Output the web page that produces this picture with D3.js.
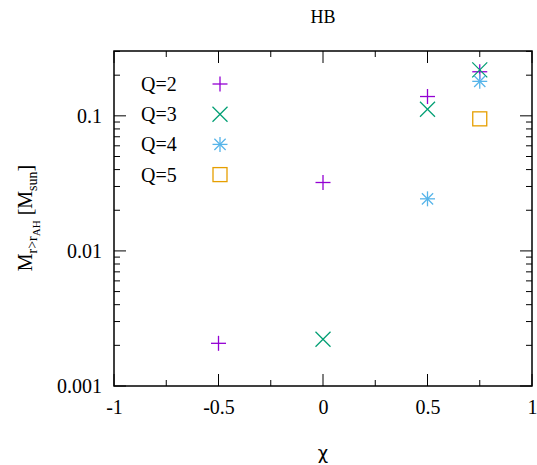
<!DOCTYPE html>
<html><head><meta charset="utf-8">
<script src="https://cdn.jsdelivr.net/npm/d3@7"></script>
<style>body{margin:0;background:#fff}svg{display:block}text{font-family:"Liberation Serif","DejaVu Serif","Times New Roman",Times,serif !important;fill:#000}text.chi{font-family:"DejaVu Sans",sans-serif !important}</style>
</head><body>
<svg id="c" width="537" height="465"></svg>
<script>
const seriesNames = ["Q=2","Q=3","Q=4","Q=5"];
const seriesColors = ["#9400d3","#009e73","#56b4e9","#e69f00"];
const seriesSymbols = ["plus","cross","star","square"];
const q2 = [[-0.5,0.00207],[0,0.0321],[0.5,0.139],[0.75,0.212]];
const q3 = [[0,0.00222],[0.5,0.112],[0.75,0.219]];
const q4 = [[0.5,0.0243],[0.75,0.18]];
const q5 = [[0.75,0.095]];
const seriesData = [q2,q3,q4,q5];
const xTicks = [-1,-0.5,0,0.5,1];
const xTickLabels = ["-1","-0.5","0","0.5","1"];
const yTicks = [0.001,0.01,0.1];
const yTickLabels = ["0.001","0.01","0.1"];

const L=114,R=532,T=51,B=386;
const svg=d3.select("#c");
const x=d3.scaleLinear().domain([-1,1]).range([L,R]);
const y=d3.scaleLog().domain([0.001,0.302]).range([B,T]);

const yMinor=[];
for(let d=0.001; d<0.3; d*=10){for(let k=2;k<=9;k++){const v=d*k; if(v<=0.302) yMinor.push(v);} }
const xMinor=[-0.75,-0.25,0.25,0.75];
const g=svg.append("g");
const tick=(x1,y1,x2,y2)=>g.append("line").attr("x1",x1).attr("y1",y1).attr("x2",x2).attr("y2",y2).attr("stroke","#000").attr("stroke-width",1);
xTicks.forEach(v=>{tick(x(v),B,x(v),B-12);tick(x(v),T,x(v),T+12);});
xMinor.forEach(v=>{tick(x(v),B,x(v),B-6);tick(x(v),T,x(v),T+6);});
yTicks.forEach(v=>{tick(L,y(v),L+12,y(v));tick(R,y(v),R-12,y(v));});
yMinor.forEach(v=>{tick(L,y(v),L+6,y(v));tick(R,y(v),R-6,y(v));});

const xa=svg.append("g").attr("transform",`translate(0,${B})`).call(d3.axisBottom(x).tickValues(xTicks).tickFormat((d,i)=>xTickLabels[i]).tickSize(0).tickPadding(14));
xa.select(".domain").remove();
xa.attr("font-family",null).attr("font-size",null);
xa.selectAll("text").style("font-size","20px");
const ya=svg.append("g").attr("transform",`translate(${L},0)`).call(d3.axisLeft(y).tickValues(yTicks).tickFormat((d,i)=>yTickLabels[i]).tickSize(0).tickPadding(12));
ya.select(".domain").remove();
ya.attr("font-family",null).attr("font-size",null);
ya.selectAll("text").style("font-size","20px");

svg.append("rect").attr("x",L).attr("y",T).attr("width",R-L).attr("height",B-T).attr("fill","none").attr("stroke","#000").attr("stroke-width",1.5);

function drawSym(sel,type,cx,cy,color){
  const s=7.5;
  const gg=sel.append("g").attr("stroke",color).attr("stroke-width",1.3).attr("fill","none");
  const ln=(a,b,c,d)=>gg.append("line").attr("x1",cx+a).attr("y1",cy+b).attr("x2",cx+c).attr("y2",cy+d);
  if(type==="plus"||type==="star"){ln(-s,0,s,0);ln(0,-s,0,s);}
  if(type==="cross"||type==="star"){const t=type==="star"?s*0.75:s;ln(-t,-t,t,t);ln(-t,t,t,-t);}
  if(type==="square"){gg.append("rect").attr("x",cx-s+0.5).attr("y",cy-s+0.5).attr("width",2*s-1).attr("height",2*s-1);}
}
const pts=svg.append("g");
seriesData.forEach((arr,i)=>arr.forEach(d=>drawSym(pts,seriesSymbols[i],x(d[0]),y(d[1]),seriesColors[i])));

seriesNames.forEach((n,i)=>{
  const cy=84+i*30.2;
  svg.append("text").attr("x",141).attr("y",cy+7).style("font-size","20px").text(n);
  drawSym(svg,seriesSymbols[i],220,cy,seriesColors[i]);
});

svg.append("text").attr("x",323).attr("y",23).attr("text-anchor","middle").style("font-size","18px").text("HB");
svg.append("text").attr("class","chi").attr("x",323).attr("y",459).attr("text-anchor","middle").style("font-size","18px").text("χ");
const yl=svg.append("text").attr("transform","translate(32,218) rotate(-90)").attr("text-anchor","middle").style("font-size","20px");
yl.append("tspan").text("M");
yl.append("tspan").attr("dy",5).style("font-size","14px").text("r>r");
yl.append("tspan").attr("dy",3).style("font-size","11px").text("AH");
yl.append("tspan").attr("dy",-8).text(" [M");
yl.append("tspan").attr("dy",5).style("font-size","14px").text("sun");
yl.append("tspan").attr("dy",-5).text("]");
</script>
</body></html>
